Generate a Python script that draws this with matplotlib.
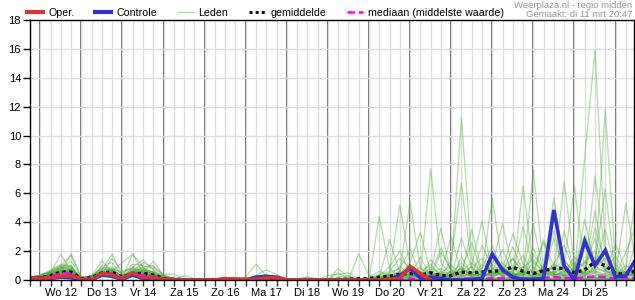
import matplotlib
matplotlib.use('Agg')
import matplotlib.pyplot as plt
from matplotlib.lines import Line2D
import numpy as np

plt.rcParams['font.family'] = ['Liberation Sans', 'DejaVu Sans']

# ---- time axis: 6-hourly steps, step 0 = di 11 18:00 ----
dagen = ['Wo 12', 'Do 13', 'Vr 14', 'Za 15', 'Zo 16', 'Ma 17', 'Di 18',
         'Wo 19', 'Do 20', 'Vr 21', 'Za 22', 'Zo 23', 'Ma 24', 'Di 25']
n_stappen = 60
y_ticks = [0, 2, 4, 6, 8, 10, 12, 14, 16, 18]

# ---- operational run (ends at step 39) ----
oper = [0.1, 0.1, 0.15, 0.25, 0.3, 0.05, 0.0, 0.45, 0.35, 0.1, 0.5, 0.15, 0.2, 0.05,
        0.0, 0.0, 0.0, 0.0, 0.0, 0.1, 0.05, 0.05, 0.05, 0.15, 0.15, 0.0, 0.0, 0.0,
        0.0, 0.0, 0.0, 0.0, 0.0, 0.0, 0.0, 0.05, 0.1, 0.95, 0.45, 0.0]

# ---- control run ----
controle = [0.1, 0.15, 0.1, 0.2, 0.15, 0.0, 0.0, 0.35, 0.25, 0.05, 0.35, 0.1, 0.15, 0.05,
            0.0, 0.0, 0.0, 0.0, 0.0, 0.05, 0.05, 0.0, 0.2, 0.25, 0.2, 0.0, 0.0, 0.0,
            0.0, 0.0, 0.0, 0.0, 0.0, 0.0, 0.0, 0.05, 0.3, 0.8, 0.15, 0.2, 0.1, 0.0,
            0.0, 0.05, 0.1, 1.8, 0.7, 0.2, 0.05, 0.05, 0.15, 4.85, 1.0, 0.0, 2.7, 1.0,
            2.05, 0.2, 0.3, 1.45]

# ---- ensemble mean ----
gemiddelde = [0.1, 0.15, 0.3, 0.55, 0.55, 0.1, 0.15, 0.5, 0.55, 0.2, 0.45, 0.45, 0.35, 0.1,
              0.05, 0.03, 0.02, 0.02, 0.02, 0.03, 0.03, 0.02, 0.05, 0.08, 0.05, 0.01, 0.01, 0.01,
              0.02, 0.02, 0.05, 0.05, 0.1, 0.1, 0.2, 0.25, 0.4, 0.45, 0.35, 0.5, 0.3, 0.3,
              0.55, 0.5, 0.55, 0.6, 0.65, 0.9, 0.6, 0.45, 0.65, 0.8, 0.8, 0.5, 0.7, 1.25,
              1.0, 0.45, 0.4, 0.65]

# ---- ensemble median ----
mediaan = [0.05, 0.1, 0.25, 0.45, 0.45, 0.05, 0.1, 0.4, 0.45, 0.15, 0.35, 0.35, 0.25, 0.05,
           0.0, 0.0, 0.0, 0.0, 0.0, 0.0, 0.0, 0.0, 0.0, 0.0, 0.0, 0.0, 0.0, 0.0,
           0.0, 0.0, 0.0, 0.0, 0.0, 0.0, 0.02, 0.02, 0.05, 0.1, 0.05, 0.1, 0.05, 0.05,
           0.1, 0.1, 0.1, 0.1, 0.15, 0.2, 0.1, 0.05, 0.15, 0.2, 0.15, 0.1, 0.2, 0.25,
           0.2, 0.1, 0.15, 0.1]

# ---- members, early part (steps 0-13) ----
leden_vroeg = [
    [0.1, 0.1, 0.3, 0.8, 0.9, 0.1, 0.1, 0.5, 0.7, 0.2, 0.6, 0.8, 0.5, 0.1],
    [0.2, 0.3, 0.5, 1.8, 0.6, 0.0, 0.2, 0.4, 0.5, 0.1, 0.4, 0.3, 0.2, 0.4],
    [0.1, 0.2, 0.4, 0.6, 1.8, 0.2, 0.0, 0.7, 1.8, 0.3, 0.5, 0.6, 0.4, 0.1],
    [0.0, 0.1, 0.2, 0.5, 0.7, 0.1, 0.3, 1.3, 0.6, 0.2, 1.8, 0.9, 0.3, 0.0],
    [0.1, 0.3, 0.6, 1.0, 1.0, 0.0, 0.1, 0.6, 0.8, 0.5, 0.9, 1.4, 0.7, 0.2],
    [0.2, 0.2, 0.3, 0.4, 0.5, 0.1, 0.2, 0.3, 0.4, 0.1, 0.3, 0.5, 1.3, 0.3],
    [0.1, 0.4, 0.5, 0.9, 0.8, 0.2, 0.1, 1.0, 1.2, 0.3, 0.7, 0.6, 0.4, 0.1],
    [0.0, 0.1, 0.2, 0.3, 0.4, 0.0, 0.2, 0.5, 0.3, 0.2, 0.4, 0.3, 0.2, 0.1],
    [0.1, 0.2, 0.4, 0.7, 0.6, 0.1, 0.3, 0.8, 0.9, 0.4, 1.1, 1.0, 0.8, 0.3],
    [0.2, 0.3, 0.7, 1.1, 0.9, 0.1, 0.2, 0.6, 0.5, 0.2, 0.5, 0.4, 0.3, 0.1],
    [0.1, 0.1, 0.2, 0.5, 0.6, 0.0, 0.1, 0.4, 1.5, 0.6, 0.8, 0.7, 0.6, 0.2],
    [0.1, 0.3, 0.5, 0.8, 1.3, 0.2, 0.2, 0.9, 0.7, 0.3, 0.6, 1.2, 0.9, 0.4],
    [0.0, 0.2, 0.3, 0.6, 0.5, 0.1, 0.1, 0.3, 0.6, 1.2, 1.8, 0.5, 0.3, 0.1],
    [0.2, 0.2, 0.4, 0.9, 0.7, 0.1, 0.3, 0.7, 0.8, 0.2, 0.9, 0.8, 0.5, 0.2],
    [0.1, 0.2, 0.6, 1.0, 1.7, 0.2, 0.1, 0.5, 0.6, 0.2, 0.5, 0.9, 1.0, 0.3],
    [0.1, 0.2, 0.3, 0.6, 0.5, 0.0, 0.1, 0.4, 0.5, 0.1, 0.4, 0.5, 0.3, 0.1],
    [0.2, 0.3, 0.4, 0.7, 0.8, 0.1, 0.2, 0.6, 0.4, 0.2, 0.6, 0.7, 0.5, 0.2],
    [0.0, 0.1, 0.3, 0.5, 0.4, 0.1, 0.1, 0.3, 0.4, 0.1, 0.3, 0.4, 0.2, 0.0],
    [0.1, 0.2, 0.5, 0.9, 1.0, 0.1, 0.2, 0.8, 0.6, 0.3, 0.8, 0.6, 0.4, 0.1],
    [0.1, 0.1, 0.2, 0.4, 0.3, 0.0, 0.1, 0.2, 0.3, 0.1, 0.2, 0.3, 0.2, 0.1],
    [0.2, 0.3, 0.5, 0.6, 0.7, 0.2, 0.3, 0.5, 0.7, 0.2, 0.5, 0.6, 0.4, 0.2],
    [0.1, 0.2, 0.4, 0.5, 0.6, 0.1, 0.2, 0.4, 0.5, 0.2, 0.4, 0.5, 0.3, 0.1],
    [0.0, 0.1, 0.2, 0.4, 0.5, 0.0, 0.1, 0.3, 0.3, 0.1, 0.3, 0.2, 0.1, 0.0],
    [0.1, 0.3, 0.6, 0.8, 0.7, 0.1, 0.2, 0.6, 0.7, 0.2, 0.7, 0.5, 0.4, 0.1],
    [0.2, 0.2, 0.3, 0.5, 0.4, 0.1, 0.1, 0.4, 0.6, 0.1, 0.5, 0.4, 0.3, 0.2],
    [0.1, 0.1, 0.3, 0.6, 0.6, 0.1, 0.2, 0.5, 0.4, 0.2, 0.4, 0.6, 0.5, 0.1],
    [0.0, 0.2, 0.4, 0.7, 0.6, 0.0, 0.1, 0.4, 0.5, 0.1, 0.6, 0.5, 0.3, 0.1],
    [0.1, 0.2, 0.5, 0.4, 0.5, 0.1, 0.3, 0.6, 0.5, 0.2, 0.3, 0.4, 0.6, 0.2],
    [0.2, 0.1, 0.3, 0.5, 0.8, 0.1, 0.2, 0.5, 0.6, 0.3, 0.5, 0.3, 0.2, 0.1],
    [0.1, 0.2, 0.4, 0.6, 0.5, 0.0, 0.2, 0.4, 0.6, 0.1, 0.4, 0.7, 0.4, 0.1],
]

# ---- members, quiet part (steps 14-31) ----
leden_rustig = [
    [0.1, 0, 0, 0, 0, 0, 0, 0, 0, 0, 0, 0, 0, 0, 0, 0, 0, 0],
    [0.4, 0.1, 0, 0, 0, 0, 0, 0, 0, 0, 0, 0, 0, 0, 0, 0, 0, 0],
    [0, 0, 0, 0, 0, 0, 0, 0.2, 1.1, 0.3, 0, 0, 0, 0, 0, 0, 0, 0],
    [0, 0, 0, 0, 0, 0, 0, 0, 0, 0, 0, 0, 0, 0, 0, 0.3, 0.4, 0.5],
    [0, 0.3, 0.1, 0, 0, 0, 0, 0, 0, 0, 0, 0, 0, 0, 0, 0, 0, 0],
    [0, 0, 0, 0, 0, 0.1, 0.1, 0, 0, 0, 0, 0, 0, 0, 0, 0, 0, 0],
    [0, 0, 0, 0, 0, 0, 0, 0, 0.3, 0.7, 0.4, 0, 0, 0, 0, 0, 0, 0],
    [0, 0, 0, 0, 0, 0, 0, 0, 0, 0, 0, 0, 0.1, 0.2, 0, 0, 0, 0.1],
    [0, 0, 0, 0, 0, 0.1, 0.2, 0.1, 0, 0, 0, 0, 0, 0, 0, 0, 0, 0],
    [0, 0, 0, 0, 0, 0, 0, 0, 0, 0, 0, 0, 0, 0.2, 0.1, 0, 0, 0],
    [0.2, 0, 0, 0, 0, 0, 0, 0, 0.2, 0.4, 0.1, 0, 0, 0, 0, 0, 0, 0],
    [0, 0, 0, 0, 0, 0, 0, 0, 0, 0, 0, 0, 0, 0, 0, 0, 0.8, 0.2],
    [0, 0, 0, 0, 0, 0, 0, 0, 0.1, 0.3, 0.2, 0, 0, 0, 0, 0, 0, 0],
    [0, 0, 0, 0, 0, 0, 0, 0, 0, 0, 0, 0, 0, 0, 0, 0, 0.2, 0.3],
    [0.1, 0, 0, 0, 0, 0, 0.1, 0, 0, 0, 0, 0, 0, 0, 0, 0, 0, 0],
    [0, 0, 0, 0, 0, 0, 0, 0, 0, 0, 0, 0, 0, 0, 0, 0, 0, 0],
    [0.1, 0, 0, 0, 0, 0, 0, 0, 0, 0, 0, 0, 0, 0, 0, 0, 0, 0],
    [0, 0, 0, 0, 0, 0, 0, 0, 0, 0, 0, 0, 0, 0, 0, 0, 0, 0.1],
    [0, 0, 0, 0, 0, 0.1, 0, 0, 0, 0, 0, 0, 0, 0, 0, 0, 0, 0],
    [0, 0, 0, 0, 0, 0, 0, 0, 0, 0, 0, 0, 0, 0, 0, 0, 0.5, 0.1],
    [0, 0, 0, 0, 0, 0, 0, 0, 0, 0, 0, 0, 0, 0, 0, 0, 0, 0],
    [0, 0, 0, 0, 0, 0, 0, 0, 0, 0, 0, 0, 0, 0, 0, 0, 0.1, 0.2],
    [0, 0, 0, 0, 0, 0, 0, 0, 0, 0, 0, 0, 0, 0, 0, 0, 0, 0],
    [0.1, 0, 0, 0, 0, 0, 0, 0, 0, 0, 0, 0, 0, 0, 0, 0, 0, 0],
    [0, 0, 0, 0, 0, 0, 0, 0, 0, 0, 0, 0, 0, 0, 0, 0, 0, 0],
    [0, 0, 0, 0, 0, 0, 0, 0, 0, 0, 0, 0, 0, 0, 0, 0, 0, 0],
    [0, 0, 0, 0, 0, 0, 0, 0, 0, 0, 0, 0, 0, 0, 0, 0, 0, 0],
    [0, 0, 0, 0, 0, 0, 0, 0, 0, 0, 0, 0, 0, 0, 0, 0, 0, 0],
    [0, 0, 0, 0, 0, 0, 0, 0, 0, 0, 0, 0, 0, 0, 0, 0, 0, 0],
    [0, 0, 0, 0, 0, 0, 0, 0, 0, 0, 0, 0, 0, 0, 0, 0, 0, 0],
]

# ---- members, late part (steps 32-59) ----
leden_laat = [
    [0, 0, 0.2, 0.4, 0.3, 0.6, 0.2, 0.9, 0.4, 0.1, 0.6, 1.2, 0.5, 0.3, 0.8, 1.5, 0.6, 0.2, 0.4, 1.1, 0.7, 0.3, 8.5, 15.9, 2.4, 0.5, 0.3, 0.8],
    [0, 0.1, 0.3, 0.5, 5.2, 1.0, 0.3, 0.4, 0.2, 0.6, 11.2, 1.5, 0.4, 0.8, 0.3, 0.2, 0.9, 1.4, 0.5, 0.3, 0.6, 1.2, 0.4, 0.7, 11.8, 1.1, 0.3, 0.5],
    [0, 0, 4.4, 0.8, 0.2, 0.5, 0.3, 7.7, 1.2, 0.4, 0.8, 0.3, 1.1, 0.6, 2.1, 0.5, 0.3, 7.6, 0.8, 0.4, 1.3, 0.6, 0.2, 0.9, 1.5, 0.4, 0.8, 6.0],
    [0.1, 0, 0.1, 0.3, 0.6, 5.4, 0.8, 0.3, 0.2, 1.4, 6.7, 0.8, 0.3, 1.6, 0.4, 2.3, 0.6, 0.3, 1.0, 5.7, 0.8, 0.4, 1.2, 2.0, 0.7, 0.3, 5.3, 1.1],
    [0, 0, 0.2, 2.8, 0.5, 0.3, 0.9, 0.4, 2.2, 0.6, 0.3, 1.0, 4.1, 0.5, 0.8, 0.3, 6.5, 0.9, 0.4, 0.6, 6.8, 1.0, 0.3, 7.2, 1.8, 0.6, 0.4, 1.5],
    [0, 0.1, 0.4, 0.6, 1.5, 0.8, 0.3, 0.7, 3.6, 0.4, 1.2, 0.5, 0.6, 5.7, 0.9, 0.4, 0.3, 1.8, 0.7, 0.5, 0.9, 6.5, 0.6, 1.1, 6.3, 0.4, 1.0, 0.6],
    [1.8, 0.3, 0.1, 0.5, 0.8, 2.1, 0.4, 0.6, 0.3, 0.2, 2.9, 0.8, 1.5, 0.4, 0.7, 3.2, 1.1, 0.5, 2.6, 1.0, 0.4, 0.8, 3.1, 1.4, 0.6, 2.5, 0.7, 0.3],
    [0, 0, 0.3, 0.9, 2.0, 0.5, 0.2, 1.4, 0.6, 3.0, 0.5, 0.3, 2.4, 0.9, 0.3, 0.8, 1.7, 0.4, 0.9, 3.4, 0.5, 1.6, 0.8, 2.9, 0.6, 0.4, 1.9, 3.8],
    [0, 0, 0, 0.2, 0.4, 1.2, 3.3, 0.5, 0.8, 0.3, 0.6, 2.6, 0.4, 1.0, 3.9, 0.7, 0.4, 2.2, 0.6, 0.8, 1.4, 0.5, 4.2, 0.9, 3.5, 0.8, 0.4, 0.6],
    [0, 0.2, 0.6, 0.3, 0.2, 0.4, 0.3, 0.2, 1.9, 0.7, 0.4, 0.9, 0.3, 0.5, 1.2, 0.4, 3.7, 0.8, 0.3, 1.1, 2.4, 0.6, 0.5, 1.6, 0.9, 0.3, 0.6, 0.4],
    [0, 0, 0.1, 0.2, 0.1, 0.3, 0.2, 0.5, 0.3, 0.1, 1.6, 0.4, 0.2, 0.6, 0.3, 1.5, 0.4, 0.2, 0.5, 0.9, 0.3, 0.4, 0.6, 4.8, 0.7, 0.2, 0.3, 0.5],
    [0, 0, 0.2, 0.3, 0.9, 0.4, 0.1, 0.3, 0.6, 0.2, 0.3, 0.5, 0.8, 2.4, 0.5, 0.3, 0.6, 3.9, 0.4, 0.2, 0.7, 0.5, 1.3, 0.6, 0.4, 0.8, 0.2, 2.7],
    [0, 0, 0, 0.1, 0.3, 0.2, 0.5, 1.1, 0.3, 0.4, 0.6, 0.2, 0.4, 0.3, 0.7, 0.5, 0.3, 0.6, 2.8, 0.4, 0.3, 0.9, 0.5, 3.6, 1.2, 0.5, 0.4, 0.3],
    [0, 0.1, 0.2, 0.4, 0.2, 0.8, 0.4, 0.3, 0.5, 1.0, 0.4, 3.5, 0.6, 0.3, 0.5, 0.9, 0.4, 1.2, 0.6, 0.3, 3.4, 0.6, 0.8, 0.5, 2.2, 0.4, 0.6, 0.9],
    [0, 0, 0.1, 0.3, 0.5, 0.3, 1.6, 0.2, 0.4, 0.3, 0.8, 0.4, 0.3, 1.1, 0.4, 0.6, 0.9, 0.5, 0.3, 2.9, 0.6, 0.4, 0.5, 0.8, 0.6, 1.7, 0.3, 0.4],
    [0, 0, 0, 0, 0.2, 0.5, 0.2, 0.6, 0.2, 0.3, 0.2, 0.6, 0.3, 0.4, 0.9, 0.3, 0.5, 0.3, 0.7, 0.4, 0.5, 0.8, 0.3, 1.0, 0.5, 0.3, 0.6, 0.5],
    [0, 0, 0.1, 0.2, 0.3, 0.2, 0.3, 0.2, 0.4, 0.6, 0.3, 0.2, 0.5, 0.3, 0.4, 0.2, 0.6, 0.4, 0.3, 0.5, 0.2, 0.3, 0.4, 0.6, 0.3, 0.2, 0.4, 0.3],
    [0, 0, 0, 0.1, 0.1, 0.3, 0.5, 0.4, 0.2, 0.3, 0.4, 0.3, 0.2, 0.5, 0.3, 0.4, 0.2, 0.3, 0.5, 0.3, 0.4, 0.2, 0.3, 0.5, 0.2, 0.4, 0.3, 0.2],
    [0, 0, 0.1, 0.2, 0.6, 0.3, 0.2, 0.3, 0.5, 0.2, 0.9, 0.3, 0.4, 0.2, 0.5, 0.3, 0.4, 0.6, 0.2, 0.4, 0.3, 0.5, 0.7, 0.4, 0.3, 0.5, 0.2, 0.4],
    [0, 0, 0, 0.3, 0.2, 0.4, 0.1, 0.2, 0.3, 0.5, 0.2, 0.4, 0.3, 0.2, 0.6, 0.4, 0.3, 0.2, 0.4, 0.6, 0.3, 0.2, 0.5, 0.3, 0.4, 0.3, 0.5, 0.2],
    [0, 0, 0, 0, 0.1, 0.2, 0, 0.1, 0.1, 0, 0.2, 0.1, 0, 0.1, 0.2, 0.1, 0, 0.1, 0.2, 0, 0.1, 0.3, 0.1, 0, 0.2, 0.1, 0, 0.1],
    [0, 0, 0, 0.1, 0, 0.1, 0.2, 0, 0, 0.1, 0, 0.2, 0.1, 0, 0.1, 0, 0.2, 0.1, 0, 0.1, 0.2, 0, 0.1, 0.2, 0, 0.1, 0.2, 0],
    [0, 0, 0, 0, 0, 0, 0.1, 0.1, 0, 0, 0.1, 0, 0, 0.2, 0, 0.1, 0, 0, 0.1, 0.2, 0, 0.1, 0, 0.1, 0.1, 0, 0, 0.1],
    [0, 0, 0.1, 0.2, 0.1, 0, 0, 0.2, 0.1, 0, 0, 0.1, 0.2, 0, 0.1, 0.2, 0, 0.1, 0, 0.1, 0.2, 0.1, 0, 0.2, 0.1, 0, 0.1, 0.2],
    [0, 0, 0, 0, 0.2, 0.1, 0, 0, 0.1, 0.2, 0.1, 0, 0, 0.1, 0, 0, 0.1, 0.2, 0.1, 0, 0, 0.1, 0.2, 0, 0.1, 0.2, 0.1, 0],
    [0, 0, 0, 0, 0, 0.1, 0, 0, 0, 0.1, 0, 0, 0.1, 0, 0, 0.1, 0, 0, 0, 0.1, 0, 0, 0.1, 0.1, 0, 0, 0.1, 0],
    [0, 0, 0, 0.1, 0, 0, 0.1, 0, 0.1, 0, 0, 0.1, 0, 0.1, 0.1, 0, 0, 0.1, 0, 0, 0.1, 0, 0, 0.2, 0.1, 0, 0, 0.1],
    [0, 0, 0, 0, 0, 0, 0, 0.1, 0, 0, 0.1, 0, 0, 0, 0.1, 0, 0.1, 0, 0, 0.1, 0, 0.1, 0, 0, 0.1, 0, 0.1, 0],
    [0, 0, 0, 0, 0.1, 0, 0, 0, 0, 0.1, 0, 0, 0.1, 0, 0, 0, 0, 0.1, 0, 0, 0, 0.1, 0, 0.1, 0, 0, 0, 0],
    [0, 0, 0, 0, 0, 0, 0.1, 0, 0, 0, 0, 0.1, 0, 0, 0, 0.1, 0, 0, 0.1, 0, 0, 0, 0.1, 0, 0, 0.1, 0, 0],
]

# ---- colours ----
kleur_oper = '#d43535'
kleur_ctrl = '#3333cc'
kleur_leden = '#4fa83a'
kleur_gem = '#111111'
kleur_med = '#ff00ff'

fig = plt.figure(figsize=(6.35, 3.0), dpi=100)
ax = fig.add_axes([30 / 635, 20 / 300, 604 / 635, 260 / 300])
stap = np.arange(n_stappen)

# grid: 6-hourly light lines, day separators dark
ax.set_xticks(stap)
labels = [''] * n_stappen
for k, d in enumerate(dagen):
    labels[3 + 4 * k] = d
ax.set_xticklabels(labels)
ax.set_yticks(y_ticks)
ax.grid(True, color='#dddddd', lw=1.0, zorder=0)
ax.set_axisbelow(True)
for k in range(15):
    ax.axvline(1 + 4 * k, color='#4a4a4a', lw=1.2, zorder=0.5)

# members
for v, r, l in zip(leden_vroeg, leden_rustig, leden_laat):
    lid = v + r + l
    ax.plot(stap, lid, color=kleur_leden, lw=1.0, alpha=0.38, zorder=2)

ax.plot(stap, gemiddelde, color=kleur_gem, lw=2.4, linestyle=(0, (1, 1)), zorder=3)
ax.plot(stap, mediaan, color=kleur_med, lw=1.8, linestyle=(0, (3, 1.5)), zorder=3.5)
ax.plot(stap, controle, color=kleur_ctrl, lw=2.6, zorder=4, solid_joinstyle='miter')
ax.plot(stap[:len(oper)], oper, color=kleur_oper, lw=2.6, zorder=5, solid_joinstyle='miter')

ax.set_xlim(0, 58.8)
ax.set_ylim(0, 18)
for s in ax.spines.values():
    s.set_color('black')
    s.set_linewidth(1.0)
    s.set_zorder(6)
ax.tick_params(axis='x', length=4, width=1, color='#333333', labelsize=8, pad=2)
ax.tick_params(axis='y', length=5, width=1, color='black', labelsize=8, pad=1.5)

# legend
handles = [Line2D([], [], color=kleur_oper, lw=3),
           Line2D([], [], color=kleur_ctrl, lw=3),
           Line2D([], [], color='#b5dcaa', lw=1),
           Line2D([], [], color=kleur_gem, lw=2.2, linestyle=(0, (1, 1))),
           Line2D([], [], color=kleur_med, lw=1.8, linestyle=(0, (3, 1.5)))]
namen = ['Oper.', 'Controle', 'Leden', 'gemiddelde', 'mediaan (middelste waarde)']
ax.legend(handles, namen, ncol=5, loc='lower left', bbox_to_anchor=(-0.008, 1.0),
          frameon=False, fontsize=7.7, handlelength=1.5, handletextpad=0.45,
          columnspacing=1.95, borderpad=0, borderaxespad=0.2)

fig.text(632 / 635, 1 - 0.5 / 300, 'Weerplaza.nl - regio midden', ha='right', va='top',
         fontsize=6.8, color='#999999')
fig.text(632 / 635, 1 - 10 / 300, 'Gemaakt: di 11 mrt 20:47', ha='right', va='top',
         fontsize=6.8, color='#999999')

fig.savefig('out.png', dpi=100)
